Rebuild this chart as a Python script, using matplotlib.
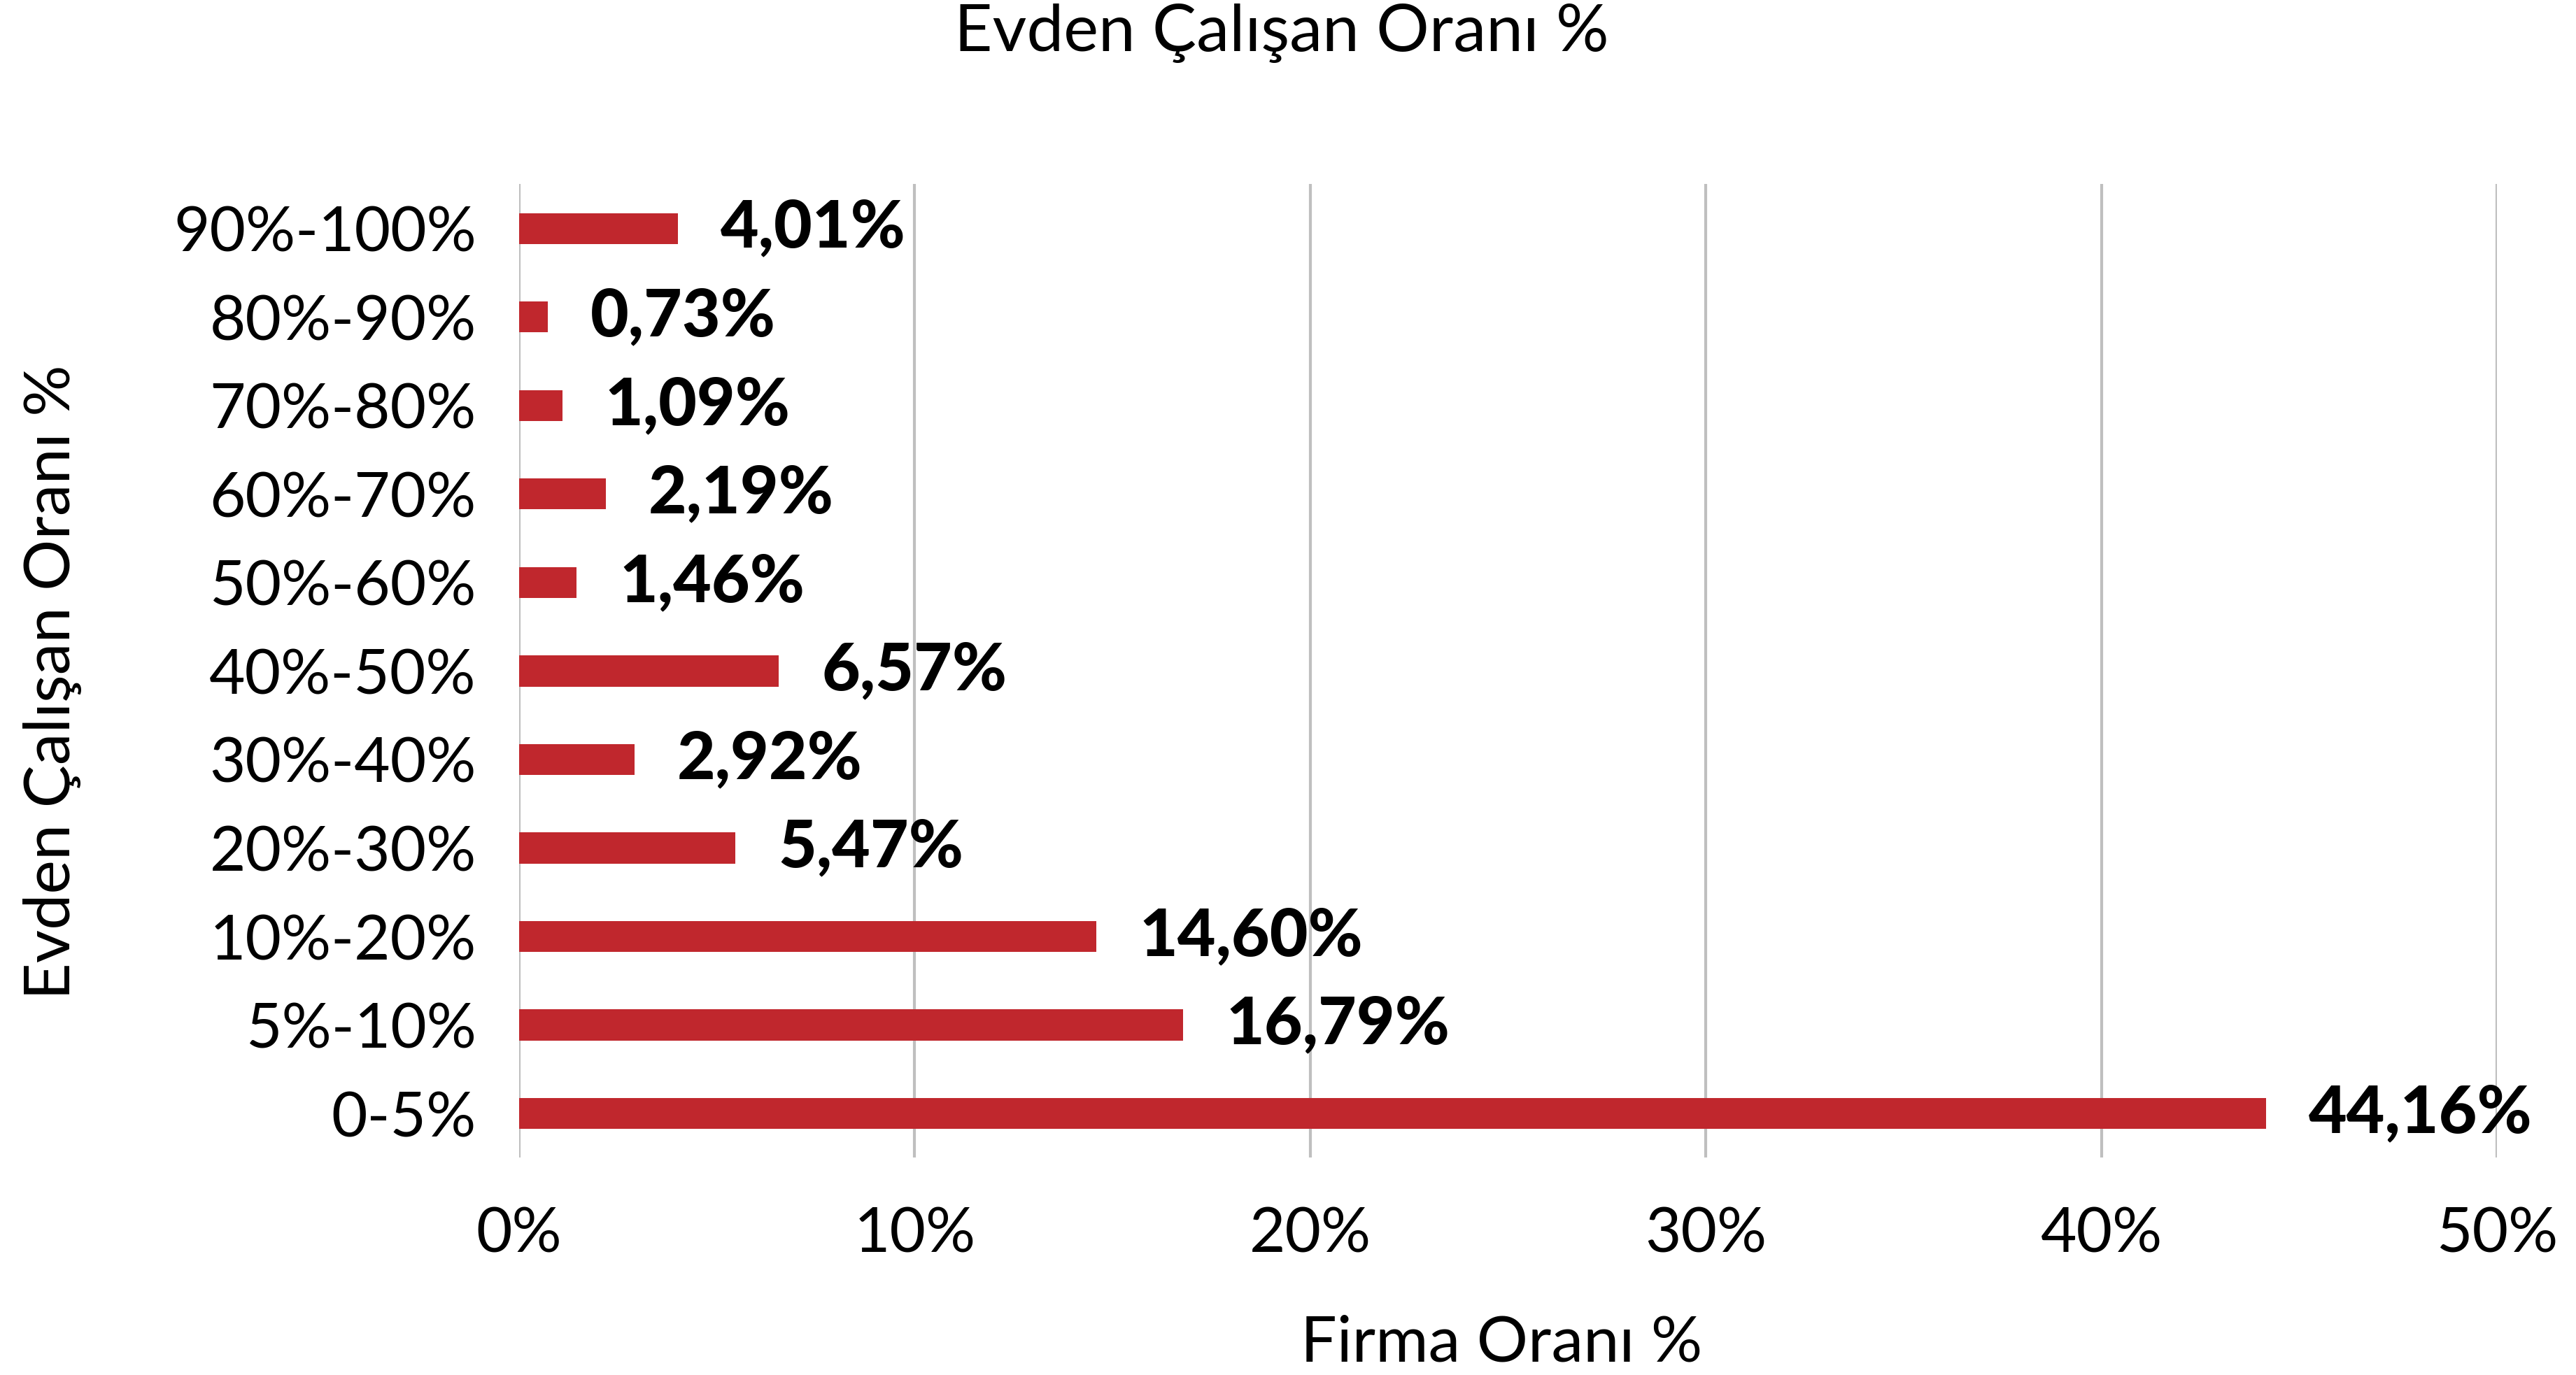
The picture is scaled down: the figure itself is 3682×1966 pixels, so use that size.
import matplotlib
matplotlib.use('Agg')
import matplotlib.pyplot as plt

# data
categories = ['0-5%', '5%-10%', '10%-20%', '20%-30%', '30%-40%', '40%-50%',
              '50%-60%', '60%-70%', '70%-80%', '80%-90%', '90%-100%']
values = [44.16, 16.79, 14.60, 5.47, 2.92, 6.57, 1.46, 2.19, 1.09, 0.73, 4.01]
value_labels = ['44,16%', '16,79%', '14,60%', '5,47%', '2,92%', '6,57%',
                '1,46%', '2,19%', '1,09%', '0,73%', '4,01%']
xticks = [0, 10, 20, 30, 40, 50]
xtick_labels = ['0%', '10%', '20%', '30%', '40%', '50%']

plt.rcParams['font.family'] = ['Lato', 'DejaVu Sans']

fig = plt.figure(figsize=(18.41, 9.83), dpi=200)
ax = fig.add_axes([0.2015, 0.158, 0.7678, 0.708])

ypos = range(len(categories))
ax.barh(ypos, values, height=0.35, color='#C0272D', zorder=3)

for y, v, lab in zip(ypos, values, value_labels):
    ax.annotate(lab, (v, y), xytext=(22, 0), textcoords='offset points',
                ha='left', va='center', fontsize=34, fontweight='black',
                color='black', zorder=4)

ax.set_xlim(0, 50)
ax.set_ylim(-0.5, len(categories) - 0.5)
ax.set_xticks(xticks)
ax.set_xticklabels(xtick_labels)
ax.set_yticks(list(ypos))
ax.set_yticklabels(categories)
ax.tick_params(axis='both', length=0, labelsize=32)
ax.tick_params(axis='x', pad=25)
ax.tick_params(axis='y', pad=22)

ax.grid(axis='x', color='#BFBFBF', linewidth=1.5, zorder=0)
for s in ax.spines.values():
    s.set_visible(False)

fig.text(0.4975, 0.976, 'Evden Çalışan Oranı %', ha='center', va='center', fontsize=34)
fig.text(0.583, 0.023, 'Firma Oranı %', ha='center', va='center', fontsize=33)
fig.text(0.0204, 0.504, 'Evden Çalışan Oranı %', ha='center', va='center',
         rotation=90, fontsize=33)

fig.savefig('out.png', dpi=200, facecolor='white')
